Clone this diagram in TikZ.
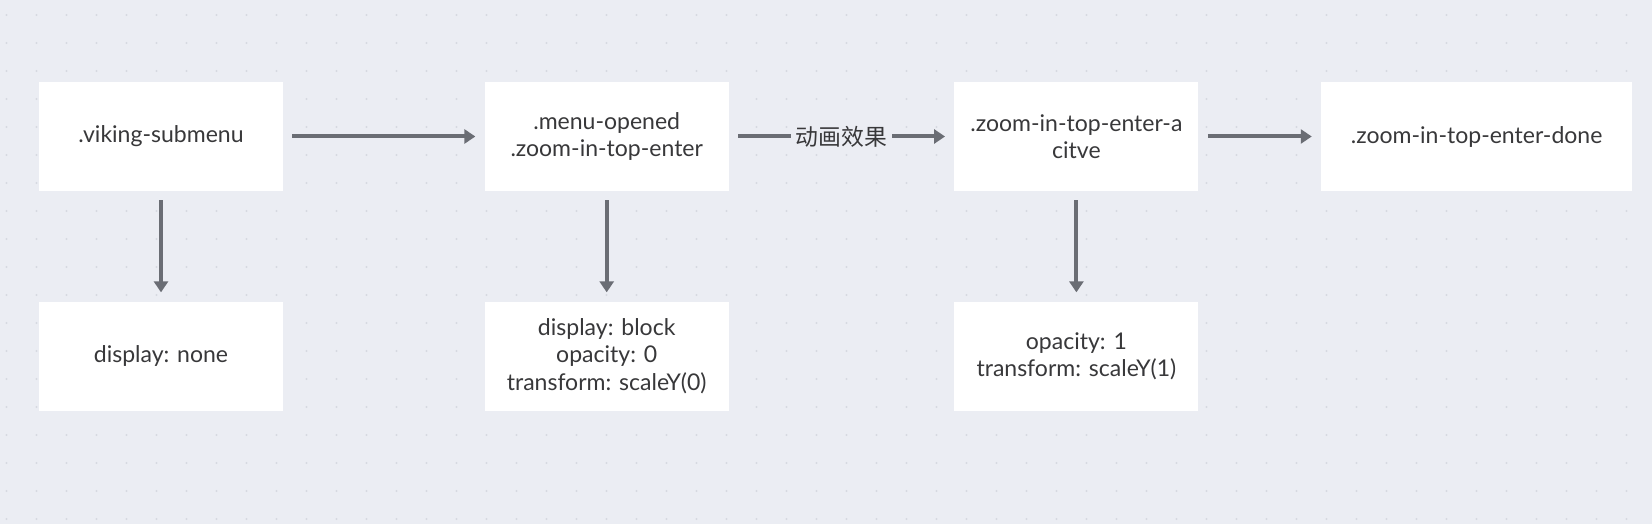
\documentclass[tikz,border=0pt]{standalone}
\usepackage{fontspec}
\setmainfont{Lato}
\newfontfamily\cjk{Noto Sans CJK SC}
\usetikzlibrary{arrows.meta, positioning}
\definecolor{canvas}{HTML}{EBEDF3}
\definecolor{dotgray}{HTML}{D6D9E1}
\definecolor{linegray}{HTML}{6A6D74}
\definecolor{textgray}{HTML}{38383A}

\begin{document}
\begin{tikzpicture}[
  node distance=2.2cm and 4cm,
  block/.style={rectangle, minimum width=4.88cm, minimum height=2.18cm,
    align=center, fill=white, text=textgray, font=\fontsize{13.1}{15.6}\selectfont},
  arrow/.style={-{Triangle[length=0.22cm, width=0.28cm]}, line width=0.08cm,
    draw=linegray, shorten <=0.18cm, shorten >=0.18cm}
]

% canvas with dot grid
\fill[canvas] (0,0) rectangle (33.04,-10.48);
\foreach \x in {0.13,0.73,...,33}
  \foreach \y in {-0.3,-0.86,...,-10.4}
    \fill[dotgray] (\x,\y) circle (0.024);

\node (sub) [block] at (3.22,-2.73) {.viking-submenu};
\node (opened) [block, right=4.02cm of sub] {.menu-opened\\.zoom-in-top-enter};
\node (active) [block, right=4.5cm of opened] {.zoom-in-top-enter-a\\citve};
\node (done) [block, minimum width=6.22cm, right=2.44cm of active] {.zoom-in-top-enter-done};
\node (none) [block, below=of sub] {display: none};
\node (hidden) [block, below=of opened] {display: block\\opacity: 0\\transform: scaleY(0)};
\node (shown) [block, below=of active] {opacity: 1\\transform: scaleY(1)};

\draw [arrow] (sub) -- (opened);
\draw [arrow] (opened) -- node[fill=canvas, text=textgray, inner sep=0.1cm,
  font=\cjk\fontsize{13}{13}\selectfont]{动画效果} (active);
\draw [arrow] (active) -- (done);
\draw [arrow] (sub) -- (none);
\draw [arrow] (opened) -- (hidden);
\draw [arrow] (active) -- (shown);

\end{tikzpicture}
\end{document}
